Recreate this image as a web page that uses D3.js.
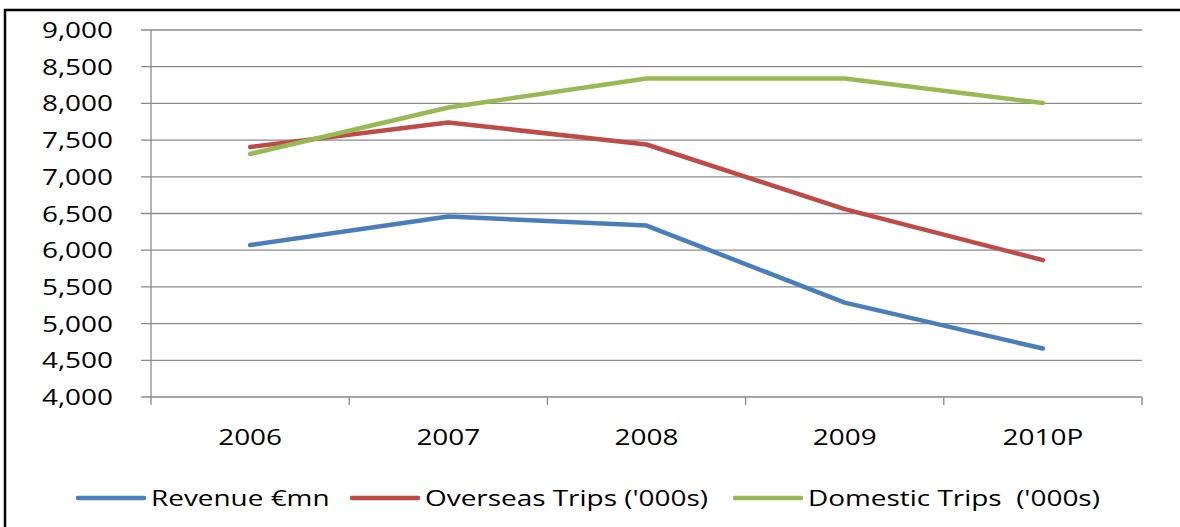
<!DOCTYPE html>
<html>
<head>
<meta charset="utf-8">
<script src="https://cdn.jsdelivr.net/npm/d3@7"></script>
<style>
  body { margin: 0; background: #fff; }
  text { font-family: "Open Sans", sans-serif; fill: #000; white-space: pre; }
</style>
</head>
<body>
<div id="chart"></div>
<script>
let d3 = window.d3;

// data
const years = ["2006", "2007", "2008", "2009", "2010P"];
const revenue = [6070, 6460, 6335, 5285, 4660];
const overseas = [7405, 7740, 7440, 6560, 5865];
const domestic = [7310, 7945, 8340, 8340, 8005];
const yTicks = [4000, 4500, 5000, 5500, 6000, 6500, 7000, 7500, 8000, 8500, 9000];
const seriesNames = ["Revenue €mn", "Overseas Trips ('000s)", "Domestic Trips  ('000s)"];
const seriesColors = ["#4a7ebb", "#be4b48", "#98b954"];

const width = 1180,
  height = 527;
const sx = 1.33; // glyphs in the picture are stretched sideways

const svg = d3
  .select("#chart")
  .append("svg")
  .attr("width", width)
  .attr("height", height);

// outer frame (only top and left edge visible)
svg.append("rect")
  .attr("x", 5)
  .attr("y", 10)
  .attr("width", 1200)
  .attr("height", 600)
  .attr("fill", "none")
  .attr("stroke", "#000")
  .attr("stroke-width", 2.5);

const x = d3.scaleBand().domain(years).range([151, 1142]);
const y = d3.scaleLinear().domain([4000, 9000]).range([397, 30]);

const grid = "#8a8a8a";

// gridlines + y ticks
svg.append("g")
  .selectAll("line")
  .data(yTicks)
  .join("line")
  .attr("x1", 141)
  .attr("x2", 1142)
  .attr("y1", (d) => y(d))
  .attr("y2", (d) => y(d))
  .attr("stroke", grid)
  .attr("stroke-width", 1.3);

// y axis line
svg.append("line")
  .attr("x1", 151).attr("x2", 151)
  .attr("y1", y(9000)).attr("y2", y(4000) + 8)
  .attr("stroke", grid).attr("stroke-width", 1.3);

// x tick marks at band edges
const edges = years.map((d) => x(d)).concat([x.range()[1]]);
svg.append("g")
  .selectAll("line")
  .data(edges.slice(1))
  .join("line")
  .attr("x1", (d) => d).attr("x2", (d) => d)
  .attr("y1", y(4000)).attr("y2", y(4000) + 8)
  .attr("stroke", grid).attr("stroke-width", 1.3);

// stretched text helper
function label(g, txt, px, py, anchor) {
  return g.append("text")
    .attr("transform", `translate(${px},${py}) scale(${sx},1)`)
    .attr("text-anchor", anchor)
    .attr("dominant-baseline", "central")
    .style("font-size", "21px")
    .text(txt);
}

const fmt = d3.format(",");
const yl = svg.append("g");
yTicks.forEach((d) => label(yl, fmt(d), 113, y(d), "end"));

const xl = svg.append("g");
years.forEach((d) => label(xl, d, x(d) + x.bandwidth() / 2, 437, "middle"));

// lines
const allSeries = [revenue, overseas, domestic];
const line = d3
  .line()
  .x((d, i) => x(years[i]) + x.bandwidth() / 2)
  .y((d) => y(d));

svg.append("g")
  .selectAll("path")
  .data(allSeries)
  .join("path")
  .attr("d", (d) => line(d))
  .attr("fill", "none")
  .attr("stroke", (d, i) => seriesColors[i])
  .attr("stroke-width", 4.5)
  .attr("stroke-linecap", "round")
  .attr("stroke-linejoin", "round");

// legend
const legX = [78, 352, 735];
const lg = svg.append("g");
seriesNames.forEach((name, i) => {
  lg.append("line")
    .attr("x1", legX[i]).attr("x2", legX[i] + 66)
    .attr("y1", 498).attr("y2", 498)
    .attr("stroke", seriesColors[i])
    .attr("stroke-width", 4.5)
    .attr("stroke-linecap", "round");
  label(lg, name, legX[i] + 73, 498, "start");
});
</script>
</body>
</html>
